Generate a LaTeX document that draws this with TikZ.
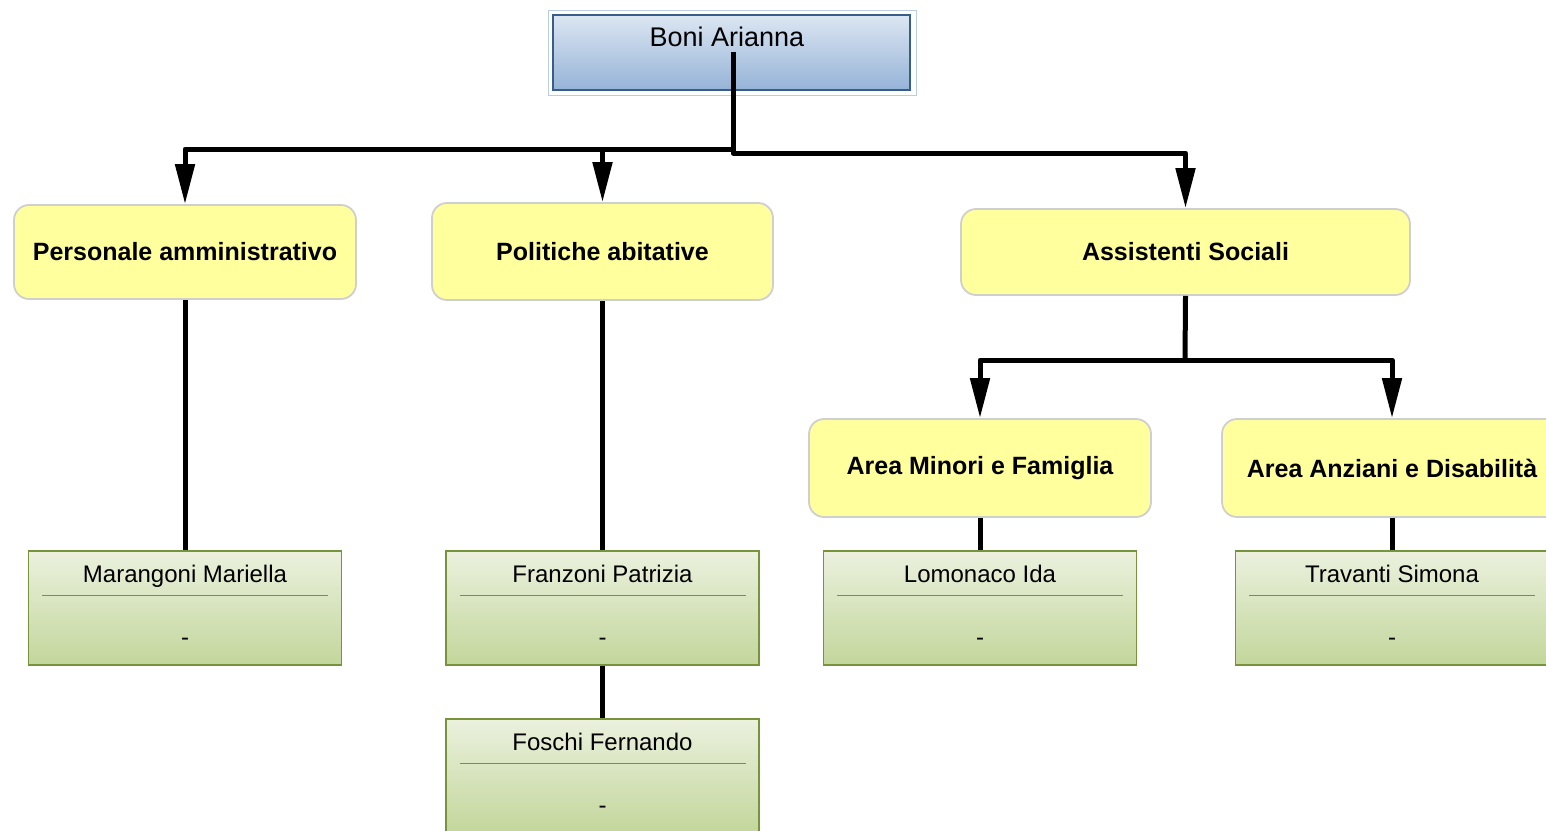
\documentclass[tikz,border=0pt]{standalone}
\usepackage{fontspec}
\setmainfont{Liberation Sans}
\usetikzlibrary{arrows.meta,calc}

\definecolor{headtop}{HTML}{DCE6F2}
\definecolor{headbot}{HTML}{95B3D7}
\definecolor{headline}{HTML}{385D8A}
\definecolor{headframe}{HTML}{B9CDE5}
\definecolor{unitfill}{HTML}{FFFF9E}
\definecolor{unitline}{HTML}{CFCFCF}
\definecolor{cardtop}{HTML}{EBF1DE}
\definecolor{cardbot}{HTML}{C3D69B}
\definecolor{cardline}{HTML}{77933C}

\begin{document}
\begin{tikzpicture}[x=1pt,y=-1pt,
  head/.style={draw=headline,line width=1.5pt,top color=headtop,bottom color=headbot,
    minimum width=357pt,minimum height=75pt,inner sep=0pt},
  unit/.style={draw=unitline,line width=1.8pt,fill=unitfill,rounded corners=15pt,
    inner sep=0pt,font=\fontsize{25}{30}\selectfont\bfseries},
  card/.style={draw=cardline,line width=1.2pt,top color=cardtop,bottom color=cardbot,
    minimum width=313pt,minimum height=114pt,inner sep=0pt},
  link/.style={line width=5pt,line join=round,black},
  linkto/.style={link,-{Triangle[length=40pt,width=19pt]}}]
  \useasboundingbox (0,0) rectangle (1546,830);
  \clip (0,0) rectangle (1546,830);

  % top
  \node[draw=headframe,line width=1pt,minimum width=368pt,minimum height=85pt] (frame) at (732,52.5) {};
  \node[head] (boni) at (731.5,52.5) {};
  \node[font=\fontsize{27}{32}\selectfont] (boniname) at (727,37) {Boni Arianna};
  \coordinate (root) at (733,52);
  \coordinate (split) at (733,149);
  \coordinate (splitr) at (733,153);

  % units
  \node[unit,minimum width=342pt,minimum height=94pt] (pers) at (185,252) {Personale amministrativo};
  \node[unit,minimum width=341pt,minimum height=97pt] (poli) at (602.5,251.5) {Politiche abitative};
  \node[unit,minimum width=449pt,minimum height=86pt] (assi) at (1185.5,252) {Assistenti Sociali};
  \node[unit,minimum width=342pt,minimum height=98pt] (mino) at (980,468) {Area Minori e Famiglia};
  \node[unit,minimum width=340pt,minimum height=98pt] (anzi) at (1392,468) {Area Anziani e Disabilità};
  \coordinate (asplit) at (1185,360);

  % people
  \foreach \nm/\x/\y/\who in {mara/185/608/Marangoni Mariella,
      fran/602.5/608/Franzoni Patrizia,
      fosc/602.5/776/Foschi Fernando,
      lomo/980/608/Lomonaco Ida,
      trav/1392/608/Travanti Simona} {
    \node[card] (\nm) at (\x,\y) {};
    \node[font=\fontsize{24}{28}\selectfont,anchor=base] (\nm-name) at ($(\nm.north)+(0,32)$) {\who};
    \draw[cardline,line width=1.6pt] ($(\nm.north)+(-143,45)$) -- ($(\nm.north)+(143,45)$);
    \node[font=\fontsize{24}{28}\selectfont,anchor=base] (\nm-dash) at ($(\nm.north)+(0,95)$) {-};
  }

  % links
  \draw[link] (root) -- (split);
  \draw[linkto] (split) -| (pers.north);
  \draw[linkto] (split) -| (poli.north);
  \draw[linkto] (split) -- (splitr) -| (assi.north);
  \draw[link] (assi.south) -- (asplit);
  \draw[linkto] (asplit) -| (mino.north);
  \draw[linkto] (asplit) -| (anzi.north);

  \draw[link] (pers.south) -- (mara.north);
  \draw[link] (poli.south) -- (fran.north);
  \draw[link] (fran.south) -- (fosc.north);
  \draw[link] (mino.south) -- (lomo.north);
  \draw[link] (anzi.south) -- (trav.north);
\end{tikzpicture}
\end{document}
